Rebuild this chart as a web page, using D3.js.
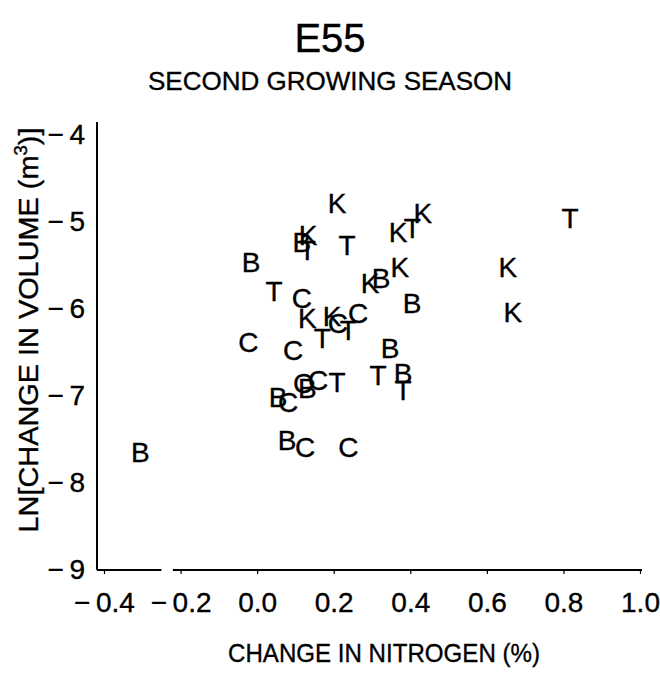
<!DOCTYPE html>
<html>
<head>
<meta charset="utf-8">
<script src="https://cdn.jsdelivr.net/npm/d3@7"></script>
<style>
  html, body { margin: 0; padding: 0; background: #fff; }
  svg { display: block; }
  text { font-family: "Liberation Sans", Arial, Helvetica, sans-serif; fill: #000; stroke: #000; stroke-width: 0.35px; }
</style>
</head>
<body>
<svg id="chart" width="660" height="674"></svg>
<script>
// ---- data ----
const groups = ["B", "T", "K", "C"];
const bNitrogen = [-0.305, -0.016, 0.117, 0.324, 0.405, 0.347, 0.381, 0.131, 0.055, 0.078];
const bVolume   = [-7.67, -5.48, -5.25, -5.66, -5.95, -6.47, -6.76, -6.93, -7.03, -7.53];
const tNitrogen = [0.044, 0.131, 0.235, 0.405, 0.170, 0.238, 0.316, 0.381, 0.209, 0.817];
const tVolume   = [-5.82, -5.34, -5.29, -5.09, -6.36, -6.26, -6.78, -6.95, -6.86, -4.98];
const kNitrogen = [0.133, 0.209, 0.368, 0.433, 0.373, 0.295, 0.131, 0.196, 0.655, 0.668];
const kVolume   = [-5.17, -4.80, -5.14, -4.92, -5.54, -5.72, -6.13, -6.10, -5.54, -6.06];
const cNitrogen = [-0.023, 0.094, 0.117, 0.211, 0.264, 0.120, 0.159, 0.081, 0.125, 0.238];
const cVolume   = [-6.40, -6.49, -5.90, -6.18, -6.07, -6.87, -6.84, -7.09, -7.61, -7.61];
const xTicks = [-0.4, -0.2, 0.0, 0.2, 0.4, 0.6, 0.8, 1.0];
const yTicks = [-4, -5, -6, -7, -8, -9];
const titleText = "E55";
const subtitleText = "SECOND GROWING SEASON";
const xTitle = "CHANGE IN NITROGEN (%)";

const series = [
  { key: "B", x: bNitrogen, y: bVolume },
  { key: "T", x: tNitrogen, y: tVolume },
  { key: "K", x: kNitrogen, y: kVolume },
  { key: "C", x: cNitrogen, y: cVolume }
];
const points = series.flatMap(s => s.x.map((v, i) => ({ key: s.key, x: v, y: s.y[i] })));

// ---- layout ----
const svg = d3.select("#chart");
const x = d3.scaleLinear().domain([-0.4, 1.0]).range([104, 640]);
const y = d3.scaleLinear().domain([-9, -4]).range([568, 133]);
const axisX0 = 97, axisY0 = 570, axisYTop = 122;

const minus = v => (v < 0 ? "\u2212\u2009" : "");

// axes lines (the scanned x axis has a small break left of -0.2)
svg.append("line").attr("x1", axisX0).attr("x2", axisX0)
  .attr("y1", axisYTop).attr("y2", axisY0)
  .attr("stroke", "#000").attr("stroke-width", 2);
svg.append("line").attr("x1", axisX0).attr("x2", x(-0.25))
  .attr("y1", axisY0).attr("y2", axisY0)
  .attr("stroke", "#000").attr("stroke-width", 2);
svg.append("line").attr("x1", x(-0.22)).attr("x2", x(1.0) + 2)
  .attr("y1", axisY0).attr("y2", axisY0)
  .attr("stroke", "#000").attr("stroke-width", 2);

// x axis ticks + labels
const xAxis = d3.axisBottom(x).tickValues(xTicks).tickSize(4).tickSizeOuter(0)
  .tickFormat(d => minus(d) + Math.abs(d).toFixed(1));
const gx = svg.append("g").attr("transform", `translate(0,${axisY0})`).call(xAxis);
gx.select(".domain").remove();
gx.selectAll(".tick line").attr("stroke", "#000").attr("stroke-width", 1.2);
gx.selectAll(".tick text").attr("font-size", 28).attr("y", 0).attr("dy", 42)
  .style("font-family", "'Liberation Sans', Arial, sans-serif").attr("fill", "#000");

// y axis ticks + labels
const yAxis = d3.axisLeft(y).tickValues(yTicks).tickSize(0).tickSizeOuter(0)
  .tickFormat(d => minus(d) + Math.abs(d));
const gy = svg.append("g").attr("transform", `translate(${axisX0},0)`).call(yAxis);
gy.select(".domain").remove();
gy.selectAll(".tick text").attr("font-size", 28).attr("x", -12).attr("dy", "0.36em")
  .style("font-family", "'Liberation Sans', Arial, sans-serif").attr("fill", "#000");

// points as letters
svg.append("g").selectAll("text.pt").data(points).join("text")
  .attr("class", "pt")
  .attr("x", d => x(d.x)).attr("y", d => y(d.y))
  .attr("dy", "0.36em")
  .attr("text-anchor", "middle")
  .attr("font-size", 28)
  .text(d => d.key);

// titles
svg.append("text").attr("x", 330).attr("y", 52).attr("text-anchor", "middle")
  .attr("font-size", 40).text(titleText);
svg.append("text").attr("x", 330).attr("y", 90).attr("text-anchor", "middle")
  .attr("font-size", 26).text(subtitleText);
svg.append("text").attr("x", 384).attr("y", 662).attr("text-anchor", "middle")
  .attr("font-size", 26).attr("textLength", 312).attr("lengthAdjust", "spacingAndGlyphs")
  .text(xTitle);

// y title
const yt = svg.append("text")
  .attr("transform", "translate(38,330) rotate(-90)")
  .attr("text-anchor", "middle").attr("font-size", 28)
  .attr("textLength", 405).attr("lengthAdjust", "spacingAndGlyphs");
yt.append("tspan").text("LN[CHANGE IN VOLUME (m");
yt.append("tspan").attr("font-size", 18).attr("dy", -11).text("3");
yt.append("tspan").attr("dy", 11).text(")]");
</script>
</body>
</html>
